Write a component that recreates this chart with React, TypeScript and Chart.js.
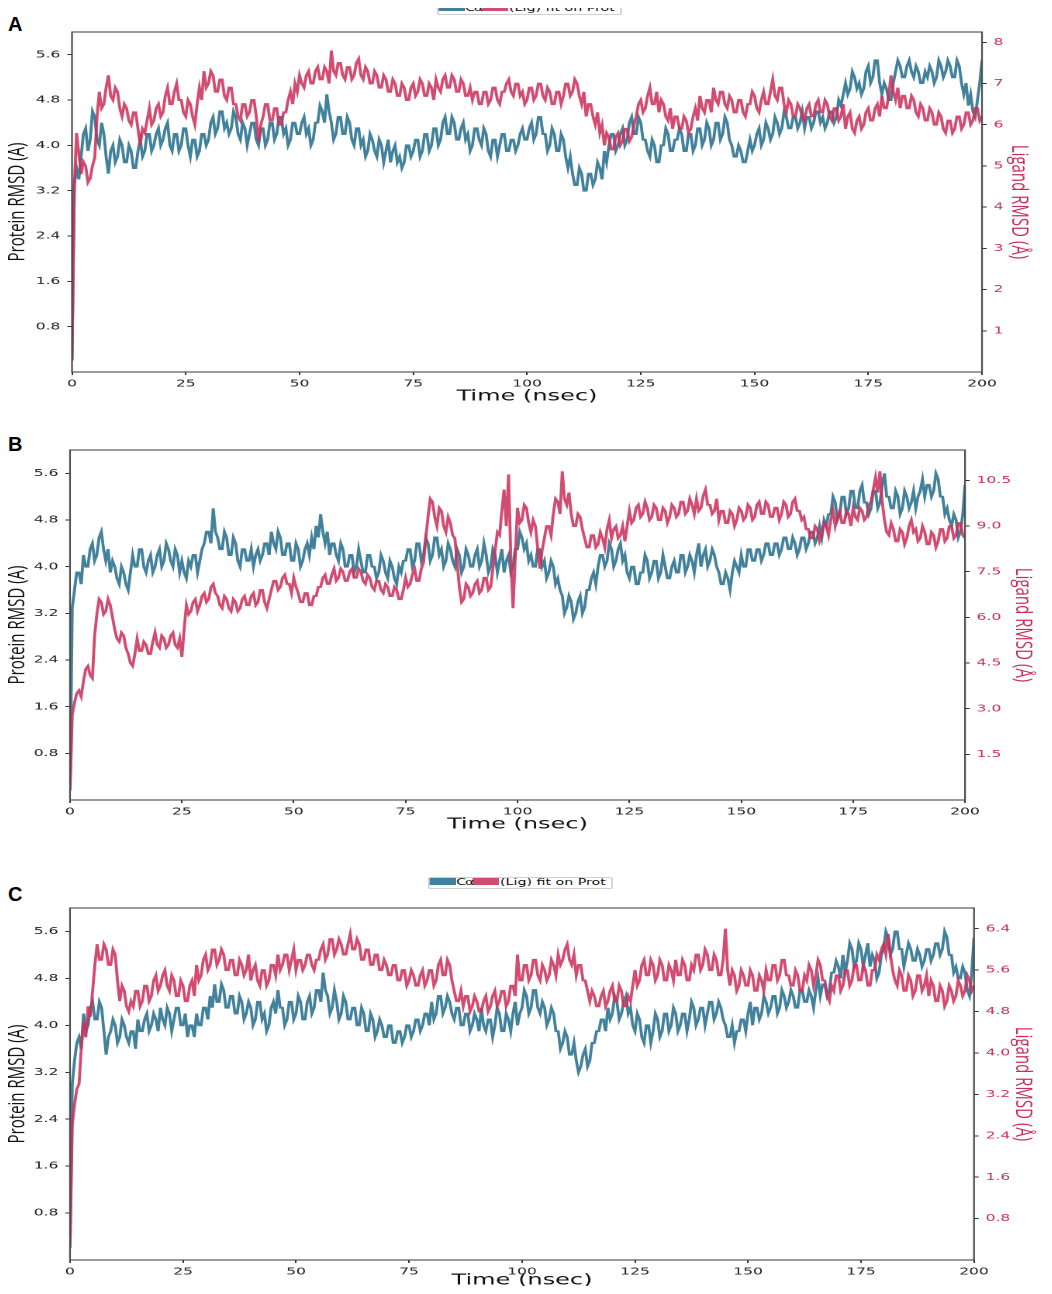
import React, { useEffect, useRef } from 'react';
import { Chart, registerables } from 'chart.js';
Chart.register(...registerables);

// ---- data ----
const TIME = Array.from({ length: 401 }, (_, i) => i * 0.5); // nsec, 0.5 ns sampling
const X_TICKS = [0, 25, 50, 75, 100, 125, 150, 175, 200];
const PROT_TICKS = [0.8, 1.6, 2.4, 3.2, 4.0, 4.8, 5.6];
const A_LIG_TICKS = [1, 2, 3, 4, 5, 6, 7, 8];
const B_LIG_TICKS = [1.5, 3.0, 4.5, 6.0, 7.5, 9.0, 10.5];
const C_LIG_TICKS = [0.8, 1.6, 2.4, 3.2, 4.0, 4.8, 5.6, 6.4];

const A_PROT = [
  0.2,3.3, 3.6,3.4, 3.8,4.2, 4.3,3.9, 4.1,4.6, 4.5,4.1, 4.0,4.4, 4.2,3.8, 3.5,3.9, 4.0,3.7,
  3.8,4.1, 4.0,3.7, 3.7,4.0, 3.9,3.6, 3.6,3.9, 4.1,3.8, 3.9,4.2, 4.2,3.9, 4.0,4.2, 4.3,4.0,
  4.1,4.3, 4.4,4.0, 3.9,4.2, 4.2,3.9, 4.0,4.3, 4.3,4.0, 3.8,4.1, 4.1,3.8, 3.9,4.2, 4.2,4.0,
  4.1,4.4, 4.5,4.2, 4.3,4.6, 4.6,4.3, 4.4,4.2, 4.3,4.6, 4.5,4.2, 4.1,4.4, 4.3,4.0, 4.2,4.4,
  4.4,4.1, 4.0,4.3, 4.3,4.0, 4.1,4.4, 4.4,4.1, 4.2,4.5, 4.5,4.2, 4.3,4.0, 4.1,4.4, 4.4,4.2,
  4.2,4.4, 4.5,4.2, 4.3,4.0, 4.1,4.4, 4.4,4.7, 4.6,4.4, 4.9,4.6, 4.4,4.1, 4.2,4.5, 4.5,4.2,
  4.2,4.5, 4.4,4.1, 4.0,4.3, 4.3,4.0, 4.1,3.8, 3.9,4.2, 4.1,3.9, 3.8,4.1, 4.0,3.7, 3.9,4.1,
  3.7,3.9, 4.0,3.7, 3.8,3.6, 3.7,4.0, 4.0,3.8, 3.9,4.1, 4.1,3.8, 3.9,4.2, 4.2,3.9, 4.0,4.3,
  4.3,4.0, 4.1,4.4, 4.5,4.2, 4.2,4.5, 4.4,4.1, 4.1,4.3, 4.4,4.1, 4.2,3.9, 4.0,4.3, 4.3,4.1,
  4.0,4.3, 4.2,3.9, 3.8,4.1, 4.1,3.8, 4.0,4.2, 4.2,3.9, 3.9,4.1, 4.1,3.9, 4.0,4.2, 4.3,4.1,
  4.1,4.3, 4.4,4.1, 4.2,4.5, 4.5,4.2, 4.2,3.9, 4.0,4.3, 4.2,3.9, 3.9,4.2, 4.1,3.8, 3.6,3.8,
  3.5,3.3, 3.3,3.6, 3.5,3.2, 3.2,3.5, 3.5,3.3, 3.4,3.7, 3.6,3.4, 3.9,3.7, 4.0,4.2, 4.2,3.9,
  4.0,4.2, 4.3,4.0, 4.1,4.4, 4.5,4.2, 4.2,4.5, 4.4,4.1, 4.1,3.9, 3.8,4.1, 4.0,3.7, 3.7,4.0,
  4.0,4.3, 4.2,3.9, 3.9,4.1, 4.1,4.3, 4.2,3.9, 3.9,4.2, 4.2,3.9, 4.0,4.3, 4.3,4.0, 4.1,4.4,
  4.3,4.0, 4.1,4.4, 4.4,4.1, 4.2,4.5, 4.4,4.1, 4.0,3.8, 3.8,4.0, 3.9,3.7, 3.7,3.9, 4.1,3.9,
  4.0,4.2, 4.3,4.0, 4.1,4.4, 4.3,4.1, 4.2,4.5, 4.4,4.2, 4.3,4.6, 4.5,4.3, 4.3,4.5, 4.5,4.3,
  4.4,4.6, 4.3,4.5, 4.5,4.3, 4.4,4.6, 4.6,4.4, 4.5,4.3, 4.4,4.6, 4.6,4.4, 4.5,4.8, 4.7,4.9,
  5.1,4.9, 5.0,5.3, 5.2,5.0, 5.1,4.9, 5.0,5.3, 5.4,5.1, 5.2,5.5, 5.5,5.1, 4.9,5.1, 5.0,4.8,
  4.8,5.1, 5.3,5.5, 5.4,5.2, 5.2,5.4, 5.5,5.3, 5.2,5.4, 5.3,5.1, 5.1,5.3, 5.2,5.4, 5.3,5.1,
  5.2,5.5, 5.4,5.2, 5.3,5.5, 5.4,5.2, 5.2,5.5, 5.4,5.1, 4.9,5.1, 4.7,4.9, 4.6,4.5, 4.8,5.1,
  5.5,
];
const A_LIG = [
  0.3,4.5, 5.8,5.3, 4.8,5.1, 5.0,4.6, 4.7,5.0, 5.2,6.2, 6.8,6.4, 6.5,6.9, 7.2,6.7, 6.6,6.9,
  6.8,6.4, 6.2,6.5, 6.4,6.1, 6.0,6.3, 6.3,5.9, 5.5,5.9, 5.8,6.1, 6.4,6.0, 6.1,6.4, 6.5,6.2,
  6.3,6.7, 6.9,6.5, 6.5,6.8, 7.0,6.6, 6.6,6.3, 6.2,6.6, 6.5,6.2, 6.0,6.5, 6.9,6.6, 7.3,6.9,
  7.0,7.3, 7.2,6.8, 6.8,7.1, 7.1,6.7, 6.6,6.9, 6.9,6.5, 6.5,6.2, 6.1,6.5, 6.5,6.2, 6.3,6.6,
  6.6,6.2, 5.6,6.0, 6.2,6.5, 6.5,6.1, 6.1,6.4, 6.4,6.0, 6.0,6.3, 6.3,6.6, 6.8,6.5, 7.0,6.8,
  7.2,7.0, 6.9,7.2, 7.3,7.0, 7.0,7.3, 7.4,7.1, 7.1,7.4, 7.3,7.0, 7.8,7.3, 7.2,7.5, 7.5,7.2,
  7.1,7.4, 7.4,7.1, 7.2,7.5, 7.6,7.2, 7.1,7.4, 7.3,7.0, 7.0,7.3, 7.2,6.9, 6.9,7.2, 7.1,6.8,
  6.8,7.1, 7.0,6.7, 6.7,7.0, 6.9,6.6, 6.6,6.9, 7.0,6.7, 6.8,7.1, 7.0,6.7, 6.7,7.0, 6.9,6.6,
  7.1,6.9, 6.8,7.1, 7.2,6.9, 6.9,7.2, 7.1,6.8, 6.8,7.1, 7.0,6.7, 6.7,6.9, 6.6,6.8, 6.8,6.5,
  6.5,6.8, 6.8,6.5, 6.6,6.9, 6.9,6.6, 6.5,6.8, 6.8,7.0, 7.1,6.8, 6.7,7.0, 7.0,6.7, 6.8,6.5,
  6.6,6.9, 6.9,6.6, 6.7,7.0, 7.0,6.7, 6.6,6.9, 6.8,6.5, 6.5,6.8, 6.8,6.5, 6.7,7.0, 7.0,6.7,
  6.8,7.1, 7.0,6.7, 6.5,6.8, 6.2,6.5, 6.5,6.2, 6.0,6.3, 5.8,6.0, 5.5,5.8, 5.7,5.4, 5.4,5.7,
  5.8,5.5, 5.6,5.9, 5.9,5.6, 5.7,6.0, 6.2,6.5, 6.6,6.3, 6.4,6.7, 6.9,6.5, 6.5,6.8, 6.3,6.6,
  6.5,6.2, 6.1,6.4, 5.9,6.2, 6.2,5.9, 5.9,6.2, 6.1,5.8, 5.9,6.2, 6.4,6.1, 6.7,6.4, 6.3,6.6,
  6.6,6.3, 6.9,6.6, 6.5,6.8, 6.8,6.5, 6.4,6.7, 6.6,6.3, 6.3,6.6, 6.6,6.3, 6.2,6.5, 6.5,6.8,
  6.7,6.4, 6.3,6.6, 6.8,6.5, 6.5,6.8, 7.1,6.7, 6.6,6.9, 6.9,6.5, 6.3,6.6, 6.5,6.2, 6.2,6.5,
  6.4,6.2, 6.1,6.4, 6.5,6.2, 6.2,6.5, 6.6,6.3, 6.3,6.6, 6.5,6.2, 6.1,6.4, 6.4,6.1, 6.2,6.5,
  5.9,6.2, 6.3,5.9, 5.8,6.1, 6.2,5.9, 6.0,6.3, 6.4,6.1, 6.1,6.4, 6.5,6.2, 6.7,6.4, 6.4,6.7,
  7.2,6.8, 6.6,6.9, 6.4,6.7, 6.7,6.4, 6.4,6.7, 6.6,6.3, 6.2,6.5, 6.4,6.1, 6.1,6.4, 6.3,6.0,
  6.0,6.3, 6.2,5.9, 5.8,6.1, 6.1,5.8, 5.9,6.2, 6.2,5.9, 6.0,6.3, 6.3,6.0, 6.1,6.4, 6.4,6.1,
  6.2,
];
const B_PROT = [
  0.2,3.3, 3.6,3.9, 3.9,3.7, 4.2,4.0, 4.0,4.3, 4.4,4.1, 4.2,4.5, 4.6,4.3, 4.1,4.3, 3.9,4.1,
  4.0,3.8, 3.7,4.0, 3.9,3.7, 3.6,3.9, 4.2,4.0, 4.0,4.3, 4.3,4.0, 3.9,4.1, 4.2,3.9, 4.0,4.2,
  4.3,4.0, 4.1,4.4, 4.3,4.1, 4.0,4.3, 4.2,3.9, 4.1,3.9, 3.8,4.1, 4.0,4.2, 4.2,3.9, 4.1,4.3,
  4.4,4.6, 4.6,4.4, 5.0,4.6, 4.5,4.3, 4.3,4.6, 4.5,4.2, 4.2,4.5, 4.4,4.1, 4.0,4.3, 4.3,4.1,
  4.1,4.3, 4.0,4.2, 4.3,4.1, 4.2,4.4, 4.4,4.2, 4.6,4.4, 4.3,4.6, 4.5,4.2, 4.2,4.4, 4.4,4.1,
  4.1,4.4, 4.3,4.0, 4.1,4.3, 4.4,4.2, 4.5,4.3, 4.7,4.5, 4.9,4.6, 4.4,4.6, 4.2,4.4, 4.4,4.2,
  4.1,4.4, 4.3,4.0, 4.0,4.2, 4.2,3.9, 4.0,4.3, 4.1,3.9, 3.9,4.2, 4.2,4.0, 4.0,3.8, 3.9,4.2,
  4.1,3.9, 3.8,4.1, 4.0,3.8, 3.7,4.0, 3.9,4.1, 4.1,4.3, 4.3,4.0, 4.1,4.4, 4.4,4.1, 4.2,4.5,
  4.4,4.1, 4.2,4.5, 4.5,4.2, 4.3,4.0, 4.1,4.4, 4.3,4.1, 4.0,4.3, 4.2,3.9, 4.0,4.3, 4.2,4.0,
  4.0,4.2, 4.3,4.0, 4.1,4.4, 4.2,3.9, 4.0,4.3, 4.2,3.9, 4.1,4.3, 3.9,4.1, 4.2,3.9, 4.0,4.3,
  4.3,4.6, 4.5,4.3, 4.4,4.1, 4.2,4.0, 4.0,4.3, 4.3,4.0, 4.1,3.8, 3.9,4.1, 4.0,3.7, 3.8,3.6,
  3.5,3.2, 3.3,3.5, 3.4,3.1, 3.2,3.4, 3.5,3.2, 3.3,3.6, 3.6,3.8, 3.9,3.7, 4.0,4.2, 4.2,4.0,
  4.1,4.4, 4.3,4.0, 4.1,4.3, 4.4,4.1, 4.2,3.9, 3.8,4.0, 4.0,3.7, 3.7,3.9, 3.9,4.2, 4.1,3.8,
  3.9,4.1, 4.1,3.8, 3.9,4.2, 4.0,3.8, 3.8,4.0, 4.1,3.9, 3.9,4.2, 4.2,3.9, 4.0,4.2, 4.1,3.9,
  4.2,4.4, 4.0,4.2, 4.3,4.0, 4.1,4.3, 4.2,4.0, 3.9,3.7, 3.7,3.9, 3.8,3.6, 3.9,4.1, 4.0,3.9,
  4.2,4.0, 4.0,4.3, 4.3,4.1, 4.1,4.3, 4.3,4.1, 4.2,4.4, 4.4,4.2, 4.2,4.4, 4.4,4.2, 4.3,4.5,
  4.5,4.3, 4.3,4.5, 4.4,4.2, 4.3,4.5, 4.5,4.3, 4.4,4.6, 4.6,4.4, 4.5,4.7, 4.5,4.8, 4.7,4.9,
  4.9,5.2, 5.1,4.8, 4.9,5.2, 5.2,4.9, 5.0,5.3, 5.3,5.0, 5.0,5.3, 5.4,5.1, 5.1,4.9, 5.0,5.3,
  5.3,5.0, 5.1,5.4, 5.6,5.2, 5.2,5.0, 5.0,5.3, 5.2,4.9, 5.0,5.3, 5.2,5.0, 5.1,5.3, 5.0,5.2,
  5.3,5.5, 5.2,5.4, 5.4,5.2, 5.3,5.6, 5.5,5.2, 5.2,4.9, 5.0,4.8, 4.7,4.9, 4.8,4.5, 4.6,4.9,
  5.4,
];
const B_LIG = [
  0.3,2.8, 3.2,3.5, 3.6,3.4, 3.9,4.3, 4.4,4.1, 4.0,5.4, 6.1,6.6, 6.5,6.1, 6.2,6.6, 6.4,6.0,
  5.6,5.3, 5.2,5.5, 5.4,5.0, 4.8,4.5, 4.4,4.8, 5.3,4.9, 4.9,5.2, 5.1,4.8, 4.8,5.2, 5.5,5.1,
  5.0,5.4, 5.3,5.0, 5.1,5.4, 5.5,5.1, 5.0,5.3, 4.7,5.6, 6.4,6.1, 6.2,6.5, 6.6,6.2, 6.4,6.7,
  6.8,6.5, 6.6,7.0, 7.1,6.8, 6.7,6.4, 6.3,6.7, 6.6,6.3, 6.2,6.6, 6.5,6.2, 6.3,6.6, 6.7,6.4,
  6.4,6.7, 6.8,6.4, 6.5,6.9, 6.9,6.5, 6.3,6.6, 6.9,7.2, 7.2,6.9, 7.0,7.3, 7.4,7.1, 7.1,6.8,
  7.3,7.0, 6.8,6.5, 6.5,6.8, 6.8,6.4, 6.4,6.7, 6.7,7.0, 7.0,7.3, 7.4,7.1, 7.1,7.4, 7.6,7.2,
  7.3,7.6, 7.5,7.2, 7.2,7.5, 7.6,7.3, 7.3,7.6, 7.5,7.2, 7.1,7.4, 7.3,7.0, 6.9,7.2, 7.2,6.9,
  6.8,7.1, 7.0,6.7, 6.7,7.0, 6.9,6.6, 6.6,6.9, 7.3,7.0, 7.1,7.4, 7.6,7.2, 7.2,7.6, 7.8,8.6,
  9.3,9.9, 9.8,9.3, 9.0,9.6, 9.5,9.0, 8.8,9.3, 9.1,8.7, 8.6,7.8, 7.0,6.5, 6.6,7.1, 7.0,6.7,
  6.8,7.1, 7.2,6.8, 6.9,7.3, 7.3,6.9, 7.0,7.6, 8.2,8.8, 8.7,9.5, 10.2,9.0, 10.7,8.0, 6.3,8.0,
  9.6,9.1, 9.2,9.7, 9.6,9.1, 8.8,9.2, 9.0,8.3, 7.6,8.2, 8.6,9.0, 9.0,8.7, 9.4,9.9, 9.8,9.4,
  10.8,9.9, 9.7,10.1, 9.4,9.0, 9.0,9.4, 9.3,8.9, 8.6,8.3, 8.3,8.7, 8.7,8.3, 8.4,8.8, 8.6,8.3,
  8.9,9.2, 8.6,8.9, 9.0,8.6, 8.7,9.0, 8.5,9.0, 9.5,9.1, 9.2,9.6, 9.7,9.3, 9.4,9.8, 9.6,9.2,
  9.3,9.7, 9.6,9.2, 9.2,9.6, 9.5,9.1, 9.3,9.7, 9.6,9.3, 9.4,9.8, 9.8,9.4, 9.5,9.9, 9.7,9.4,
  9.9,9.5, 9.6,10.0, 10.2,9.7, 9.7,9.4, 9.5,9.9, 9.2,9.5, 9.5,9.1, 9.1,9.5, 9.4,9.0, 9.2,9.6,
  9.5,9.2, 9.3,9.7, 9.6,9.2, 9.3,9.7, 9.8,9.4, 9.4,9.8, 9.7,9.3, 9.3,9.6, 9.6,9.2, 9.4,9.8,
  9.7,9.3, 9.4,9.8, 9.9,9.5, 9.5,9.2, 9.3,8.9, 8.9,8.6, 8.6,9.0, 8.9,8.5, 8.7,9.1, 9.0,8.7,
  9.2,9.5, 9.0,9.3, 9.5,9.1, 9.1,9.5, 9.4,9.0, 9.6,9.3, 9.2,9.6, 9.5,9.2, 9.3,9.7, 9.8,10.2,
  10.6,10.1, 10.8,9.8, 9.2,8.8, 8.7,9.1, 8.9,8.5, 8.5,8.9, 8.8,8.4, 8.6,9.0, 9.2,8.8, 8.9,8.5,
  8.6,9.0, 8.8,8.4, 8.4,8.8, 8.7,8.3, 8.5,8.9, 8.9,8.5, 8.6,9.0, 9.0,8.6, 8.7,9.1, 9.1,8.7,
  8.6,
];
const C_PROT = [
  0.2,3.0, 3.4,3.7, 3.8,3.6, 4.2,3.9, 4.0,4.3, 4.4,4.1, 4.1,4.4, 4.3,3.9, 3.5,3.8, 3.9,4.1,
  4.0,3.7, 3.8,4.1, 4.0,3.8, 3.7,3.9, 3.9,3.6, 4.1,3.9, 3.9,4.1, 4.2,3.9, 4.0,4.2, 4.1,3.9,
  4.3,4.1, 4.0,4.3, 4.2,3.9, 4.1,4.3, 4.3,4.0, 4.0,4.2, 3.8,4.0, 4.0,3.8, 4.2,4.0, 4.0,4.3,
  4.3,4.1, 4.5,4.3, 4.7,4.4, 4.4,4.7, 4.6,4.3, 4.3,4.5, 4.5,4.2, 4.2,4.5, 4.4,4.1, 4.2,4.4,
  4.3,4.0, 4.1,4.4, 4.4,4.1, 4.2,3.9, 4.0,4.3, 4.4,4.2, 4.6,4.3, 4.3,4.0, 4.1,4.4, 4.4,4.1,
  4.2,4.5, 4.4,4.1, 4.1,4.4, 4.5,4.2, 4.3,4.6, 4.6,4.4, 4.9,4.6, 4.5,4.2, 4.3,4.6, 4.4,4.1,
  4.2,4.5, 4.4,4.1, 4.1,4.3, 4.3,4.0, 4.0,4.3, 4.2,3.9, 3.9,4.2, 4.1,3.8, 3.9,4.1, 4.0,3.8,
  3.8,4.0, 4.0,3.7, 3.7,3.9, 3.9,3.7, 3.8,4.0, 4.0,3.8, 3.9,4.1, 4.1,3.9, 4.0,4.2, 4.2,4.0,
  4.4,4.1, 4.2,4.5, 4.5,4.2, 4.3,4.5, 4.4,4.2, 4.1,4.3, 4.3,4.0, 4.0,4.2, 4.2,3.9, 4.0,4.2,
  4.1,3.9, 4.3,4.0, 3.9,4.1, 4.1,3.8, 4.0,4.3, 4.2,3.9, 3.9,4.2, 4.1,3.9, 4.2,4.4, 4.0,4.2,
  4.3,4.6, 4.5,4.2, 4.3,4.6, 4.6,4.3, 4.2,4.4, 4.3,4.0, 4.1,4.3, 4.2,3.9, 3.9,3.6, 3.7,3.9,
  3.8,3.5, 3.5,3.7, 3.4,3.2, 3.3,3.5, 3.6,3.3, 3.4,3.7, 3.7,3.9, 3.9,4.1, 4.1,3.9, 4.3,4.1,
  4.2,4.5, 4.4,4.1, 4.2,4.4, 4.5,4.2, 4.3,4.0, 3.9,4.2, 4.1,3.8, 3.7,4.0, 4.0,3.7, 3.9,4.2,
  4.1,3.8, 3.9,4.2, 4.2,3.9, 4.0,4.3, 4.2,3.9, 4.0,4.2, 4.2,3.9, 4.1,4.4, 4.3,4.0, 4.1,4.3,
  4.3,4.0, 4.2,4.4, 4.4,4.1, 4.2,4.4, 4.3,4.1, 4.0,3.8, 3.8,4.0, 3.7,3.9, 3.9,4.1, 4.1,3.9,
  4.2,4.4, 4.0,4.3, 4.3,4.1, 4.2,4.5, 4.4,4.2, 4.3,4.5, 4.5,4.2, 4.3,4.6, 4.5,4.3, 4.4,4.6,
  4.5,4.3, 4.3,4.6, 4.6,4.4, 4.4,4.6, 4.5,4.3, 4.6,4.8, 4.5,4.7, 4.7,4.5, 4.6,4.9, 4.9,5.1,
  5.0,4.8, 5.2,4.9, 5.1,5.4, 5.3,5.0, 5.1,5.4, 5.3,5.0, 5.2,5.4, 5.0,5.2, 5.1,4.8, 4.9,5.2,
  5.3,5.6, 5.5,5.2, 5.3,5.6, 5.6,5.3, 5.3,5.0, 5.2,5.4, 5.3,5.1, 5.1,5.3, 5.2,5.0, 5.1,5.3,
  5.3,5.1, 5.2,5.4, 5.4,5.2, 5.3,5.6, 5.5,5.2, 5.2,4.9, 5.0,4.8, 4.8,5.0, 4.9,4.6, 4.5,4.9,
  5.5,
];
const C_LIG = [
  0.3,2.6, 3.0,3.3, 3.4,4.1, 4.6,4.3, 4.9,4.7, 5.2,5.7, 6.1,5.8, 5.8,6.1, 6.0,5.7, 5.7,6.0,
  5.9,5.4, 5.0,5.3, 5.2,4.9, 4.8,5.0, 4.9,5.2, 5.2,4.9, 5.0,5.3, 5.3,5.0, 5.1,5.4, 5.5,5.2,
  5.3,5.5, 5.6,5.3, 5.2,5.5, 5.4,5.1, 5.1,5.4, 5.3,5.0, 5.0,5.3, 5.4,5.1, 5.7,5.4, 5.5,5.8,
  5.9,5.6, 5.7,6.0, 6.0,5.7, 5.8,6.0, 5.9,5.6, 5.6,5.8, 5.8,5.5, 5.5,5.8, 5.7,5.5, 5.6,5.9,
  5.4,5.6, 5.7,5.4, 5.3,5.6, 5.6,5.3, 5.4,5.7, 5.7,5.5, 5.9,5.6, 5.7,5.9, 5.9,5.6, 5.8,6.0,
  5.6,5.8, 5.8,5.6, 5.7,5.9, 5.9,5.7, 5.6,5.8, 5.8,6.0, 6.1,5.8, 5.9,6.2, 6.2,5.9, 6.0,6.2,
  6.1,5.9, 5.9,6.1, 6.3,6.0, 6.0,6.2, 6.1,5.8, 5.8,6.0, 6.0,5.7, 5.7,5.9, 5.9,5.6, 5.6,5.8,
  5.7,5.5, 5.5,5.7, 5.7,5.4, 5.4,5.6, 5.6,5.3, 5.4,5.6, 5.5,5.3, 5.3,5.5, 5.6,5.3, 5.4,5.6,
  5.6,5.3, 5.4,5.7, 5.8,5.5, 5.5,5.8, 5.7,5.4, 5.2,5.0, 5.0,5.2, 4.9,5.1, 5.1,4.8, 4.9,5.1,
  5.0,4.8, 4.8,5.0, 5.1,4.8, 4.9,5.1, 5.2,4.9, 5.0,5.2, 5.2,4.9, 5.0,5.3, 5.3,5.1, 5.9,5.4,
  5.4,5.7, 5.7,5.4, 5.5,5.8, 5.8,5.5, 5.4,5.7, 5.6,5.4, 5.5,5.8, 5.7,5.5, 5.9,5.7, 5.8,6.0,
  6.1,5.8, 5.7,5.9, 5.5,5.7, 5.7,5.4, 5.4,5.2, 5.0,5.2, 5.1,4.9, 4.9,5.1, 5.2,4.9, 5.0,5.2,
  5.3,5.0, 5.0,5.3, 5.2,4.9, 4.9,5.1, 5.0,5.3, 5.6,5.3, 5.4,5.7, 5.8,5.5, 5.5,5.8, 5.7,5.4,
  5.5,5.8, 5.7,5.4, 5.4,5.7, 5.6,5.4, 5.8,5.5, 5.5,5.8, 5.7,5.4, 5.4,5.7, 5.6,5.9, 5.9,5.6,
  5.7,6.0, 5.9,5.6, 5.6,5.9, 5.8,5.5, 5.5,5.8, 6.4,5.6, 5.3,5.6, 5.5,5.2, 5.3,5.6, 5.5,5.3,
  5.3,5.6, 5.5,5.2, 5.2,5.5, 5.4,5.2, 5.6,5.4, 5.4,5.7, 5.7,5.4, 5.5,5.8, 5.8,5.5, 5.5,5.3,
  5.3,5.6, 5.5,5.2, 5.2,5.5, 5.4,5.7, 5.6,5.3, 5.5,5.8, 5.7,5.4, 5.4,5.1, 5.0,5.3, 5.2,5.5,
  5.5,5.2, 5.3,5.6, 5.6,5.3, 5.4,5.7, 5.7,5.4, 5.4,5.7, 5.6,5.3, 5.3,5.6, 5.6,5.9, 5.8,6.0,
  6.1,5.9, 6.3,5.9, 5.6,5.4, 5.3,5.6, 5.5,5.2, 5.2,5.5, 5.4,5.1, 5.2,5.5, 5.5,5.2, 5.3,5.5,
  5.1,5.4, 5.3,5.0, 5.0,5.3, 5.2,4.9, 5.0,5.3, 5.2,5.0, 5.1,5.4, 5.3,5.1, 5.2,5.5, 5.4,5.2,
  5.3,
];

// ---- styling / layout ----
const BLUE = 'rgba(56,122,150,0.95)';
const RED = 'rgba(204,50,92,0.88)';
const RED_TEXT = '#c8305a';
const CW = 668; // canvas logical width
const S = 1036 / CW; // horizontal stretch of the figure
const PAD_TOP = 12;

const framePlugin = {
  id: 'frame',
  afterDatasetsDraw(chart: any) {
    const { ctx, chartArea } = chart;
    ctx.save();
    ctx.strokeStyle = '#4a4a4a';
    ctx.lineWidth = 1.1;
    ctx.strokeRect(chartArea.left, chartArea.top, chartArea.right - chartArea.left, chartArea.bottom - chartArea.top);
    ctx.restore();
  },
};

type PanelProps = {
  prot: number[];
  lig: number[];
  ligTicks: number[];
  ligMax: number;
  ligDigits: number;
  plotTop: number;
  plotBottom: number;
  plotLeft: number;
  plotRight: number;
  rightTitlePad: number;
  xH: number;
  xTitlePad: number;
};

function Panel(p: PanelProps) {
  const ref = useRef<HTMLCanvasElement>(null);
  const height = PAD_TOP + (p.plotBottom - p.plotTop) + p.xH;
  useEffect(() => {
    const leftW = (p.plotLeft - 8) / S;
    const rightW = (1044 - p.plotRight) / S;
    const tickFont = { family: 'DejaVu Sans', size: 10 };
    const chart = new Chart(ref.current as HTMLCanvasElement, {
      type: 'line',
      data: {
        datasets: [
          {
            label: '(Lig) fit on Prot',
            data: TIME.map((t, i) => ({ x: t, y: p.lig[i] })),
            yAxisID: 'y1',
            borderColor: RED,
            borderWidth: 1.9,
            pointRadius: 0,
            tension: 0,
            order: 0,
          },
          {
            label: 'Cα',
            data: TIME.map((t, i) => ({ x: t, y: p.prot[i] })),
            yAxisID: 'y',
            borderColor: BLUE,
            borderWidth: 1.9,
            pointRadius: 0,
            tension: 0,
            order: 1,
          },
        ],
      },
      options: {
        responsive: false,
        animation: false,
        devicePixelRatio: 2,
        events: [],
        layout: { padding: { top: PAD_TOP, left: 0, right: 0, bottom: 0 } },
        plugins: { legend: { display: false }, tooltip: { enabled: false } },
        scales: {
          x: {
            type: 'linear',
            min: 0,
            max: 200,
            afterBuildTicks: (s: any) => { s.ticks = X_TICKS.map((v) => ({ value: v })); },
            afterFit: (s: any) => { s.height = p.xH; },
            ticks: { font: tickFont, color: '#222', padding: 3, maxRotation: 0, autoSkip: false, callback: (v: any) => String(v) },
            grid: { drawOnChartArea: false, drawTicks: true, tickLength: 3, color: '#333' },
            border: { display: false },
            title: { display: true, text: 'Time (nsec)', color: '#111', font: { family: 'DejaVu Sans', size: 15.5 }, padding: { top: 0, bottom: p.xTitlePad } },
          },
          y: {
            type: 'linear',
            position: 'left',
            min: 0,
            max: 6.0,
            afterBuildTicks: (s: any) => { s.ticks = PROT_TICKS.map((v) => ({ value: v })); },
            afterFit: (s: any) => { s.width = leftW; },
            ticks: { font: tickFont, color: '#222', padding: 4.5, autoSkip: false, callback: (v: any) => Number(v).toFixed(1) },
            grid: { drawOnChartArea: false, drawTicks: true, tickLength: 3, color: '#333' },
            border: { display: false },
            title: { display: true, text: 'Protein RMSD (Å)', color: '#111', font: { family: 'Open Sans', size: 15 }, padding: { top: -3, bottom: 0 } },
          },
          y1: {
            type: 'linear',
            position: 'right',
            min: 0,
            max: p.ligMax,
            afterBuildTicks: (s: any) => { s.ticks = p.ligTicks.map((v) => ({ value: v })); },
            afterFit: (s: any) => { s.width = rightW; },
            ticks: { font: tickFont, color: RED_TEXT, padding: 4.5, autoSkip: false, callback: (v: any) => Number(v).toFixed(p.ligDigits) },
            grid: { drawOnChartArea: false, drawTicks: true, tickLength: 3, color: '#333' },
            border: { display: false },
            title: { display: true, text: 'Ligand RMSD (Å)', color: RED_TEXT, font: { family: 'Open Sans', size: 15 }, padding: { top: p.rightTitlePad, bottom: 0 } },
          },
        },
      } as any,
      plugins: [framePlugin],
    });
    return () => chart.destroy();
  }, []);
  return (
    <div
      style={{
        position: 'absolute',
        left: 0,
        top: p.plotTop - PAD_TOP - 8,
        width: CW,
        height,
        transform: `scaleX(${S})`,
        transformOrigin: '0 0',
      }}
    >
      <canvas ref={ref} width={CW} height={height} style={{ display: 'block' }} />
    </div>
  );
}

function Legend({ left, top }: { left: number; top: number }) {
  const k = 1.65;
  return (
    <div
      style={{
        position: 'absolute',
        left,
        top,
        width: 112,
        height: 12,
        boxSizing: 'border-box',
        border: '1px solid #d0d0d0',
        borderRadius: 1.5,
        background: '#fff',
        transform: `scaleX(${k})`,
        transformOrigin: '0 0',
        fontFamily: 'DejaVu Sans',
        fontSize: 8.6,
        lineHeight: '10px',
        color: '#111',
        zIndex: 2,
      }}
    >
      <span style={{ position: 'absolute', left: 0, top: 0, width: 16.2, height: 7, background: BLUE }} />
      <span style={{ position: 'absolute', left: 26.3, top: 0, width: 15.5, height: 7, background: RED }} />
      <span style={{ position: 'absolute', left: 16.2, top: -1, whiteSpace: 'nowrap', letterSpacing: -0.8 }}>Cα</span>
      <span style={{ position: 'absolute', left: 42.7, top: -1, whiteSpace: 'nowrap' }}>(Lig) fit on Prot</span>
    </div>
  );
}

const letterStyle: React.CSSProperties = {
  position: 'absolute',
  left: 0,
  fontFamily: '"Liberation Sans", Arial, sans-serif',
  fontWeight: 'bold',
  fontSize: 20,
  lineHeight: '20px',
  color: '#000',
};

export default function App() {
  return (
    <div style={{ position: 'relative', width: 1036, height: 1278, background: '#fff' }}>
      <div style={{ ...letterStyle, top: 6.1 }}>A</div>
      <div style={{ ...letterStyle, top: 426.1 }}>B</div>
      <div style={{ ...letterStyle, top: 875.8 }}>C</div>
      <Panel prot={A_PROT} lig={A_LIG} ligTicks={A_LIG_TICKS} ligMax={8.25} ligDigits={0}
        plotTop={32} plotBottom={372} plotLeft={72} plotRight={982} rightTitlePad={7.4} xH={32} xTitlePad={-2} />
      <Panel prot={B_PROT} lig={B_LIG} ligTicks={B_LIG_TICKS} ligMax={11.5} ligDigits={1}
        plotTop={450} plotBottom={800} plotLeft={70} plotRight={965} rightTitlePad={4.5} xH={32} xTitlePad={-2} />
      <Panel prot={C_PROT} lig={C_LIG} ligTicks={C_LIG_TICKS} ligMax={6.8} ligDigits={1}
        plotTop={908} plotBottom={1260} plotLeft={70} plotRight={974} rightTitlePad={4.5} xH={33} xTitlePad={3} />
      <Legend left={429} top={-5} />
      <Legend left={420} top={869} />
    </div>
  );
}
